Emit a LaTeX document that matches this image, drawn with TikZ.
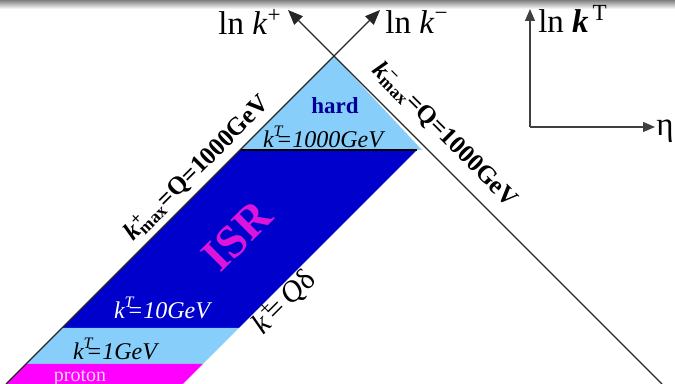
\documentclass[tikz,border=0pt]{standalone}
\usepackage{fontspec}
\setmainfont{Liberation Serif}
\usepackage{xcolor}
\usetikzlibrary{arrows.meta}
\definecolor{skyband}{RGB}{135,206,250}
\definecolor{isrblue}{RGB}{0,0,204}
\definecolor{hardnavy}{RGB}{0,0,150}
\definecolor{isrpink}{RGB}{220,20,220}
\definecolor{protonband}{RGB}{255,0,255}
\definecolor{protonpink}{RGB}{255,215,255}
\begin{document}
\begin{tikzpicture}[x=0.5pt,y=-0.5pt,
  axis/.style={-{Triangle[length=7.5pt,width=6pt]}, line width=0.6pt, black!85},
  smallaxis/.style={-{Triangle[length=6pt,width=5pt]}, line width=0.6pt, black!75},
  edge/.style={line width=0.6pt, black},
  axlab/.style={font=\fontsize{16.5}{18}\selectfont, inner sep=0pt},
  ktlab/.style={font=\fontsize{12}{14}\selectfont\itshape, inner sep=0pt},
  linelab/.style={font=\fontsize{12.6}{15}\selectfont\bfseries, inner sep=0pt}
]
  \useasboundingbox (0,0) rectangle (675,384);
  \clip (0,0) rectangle (675,384);
  \shade[top color=black!50, bottom color=white] (0,0) rectangle (675,9);

  % regions
  \coordinate (apex) at (334,56);
  \fill[skyband] (apex) -- (240,150) -- (422,150) -- cycle;
  \fill[isrblue] (240,150) -- (417,150) -- (239,328) -- (62,328) -- cycle;
  \fill[skyband] (62,328) -- (239,328) -- (203,364) -- (26,364) -- cycle;
  \fill[protonband] (26,364) -- (203,364) -- (183,384) -- (6,384) -- cycle;
  \draw[edge] (240,150) -- (417,150);

  % light-cone axes
  \coordinate (kpfoot) at (662,384);
  \coordinate (kptip) at (288,10);
  \coordinate (kmfoot) at (6,384);
  \coordinate (kmtip) at (380,10);
  \draw[axis] (kpfoot) -- (kptip);
  \draw[axis] (kmfoot) -- (kmtip);
  \node[axlab] (lnkp) at (250,22) {ln \textit{k}\textsuperscript{+}};
  \node[axlab] (lnkm) at (417,22) {ln \textit{k}\textsuperscript{−}};

  % eta / kT axes
  \coordinate (orig) at (530,127);
  \coordinate (ytip) at (530,9);
  \coordinate (xtip) at (655,127);
  \draw[smallaxis] (orig) -- (ytip);
  \draw[smallaxis] (orig) -- (xtip);
  \node[axlab] (lnkt) at (573,19) {ln \textbf{\textit{k}}\textsuperscript{\,T}};
  \node[axlab, anchor=west] (eta) at (656,131) {η};

  % region labels
  \node[font=\fontsize{11.5}{13}\selectfont\bfseries, text=hardnavy, inner sep=0pt] (hard) at (335,106) {hard};
  \node[ktlab] (kt1000) at (323,137) {k\rlap{\raisebox{0.15ex}{\textsuperscript{T}}}\kern0.1em=1000GeV};
  \node[font=\fontsize{23}{26}\selectfont\bfseries, text=isrpink, rotate=45, inner sep=0pt] (isr) at (237,236) {ISR};
  \node[ktlab, text=white] (kt10) at (162,308) {k\rlap{\raisebox{0.15ex}{\textsuperscript{T}}}\kern0.1em=10GeV};
  \node[ktlab] (kt1) at (115,349) {k\rlap{\raisebox{0.15ex}{\textsuperscript{T}}}\kern0.1em=1GeV};
  \node[font=\fontsize{10}{12}\selectfont, text=protonpink, inner sep=0pt, anchor=base] (proton) at (80,382) {proton};

  % boundary labels
  \node[linelab, rotate=45] (kpmax) at (197,168) {\textit{k}\rlap{\textsuperscript{+}}\textsubscript{max}=Q=1000GeV};
  \node[linelab, rotate=-45] (kmmax) at (445,135) {\textit{k}\rlap{\textsuperscript{−}}\textsubscript{max}=Q=1000GeV};
  \node[font=\fontsize{15}{17}\selectfont, rotate=45, inner sep=0pt] (kpqd) at (284,302) {\textit{k}\rlap{\textsuperscript{+}}\kern0.15em=\,\textit{Q}δ};
\end{tikzpicture}
\end{document}
